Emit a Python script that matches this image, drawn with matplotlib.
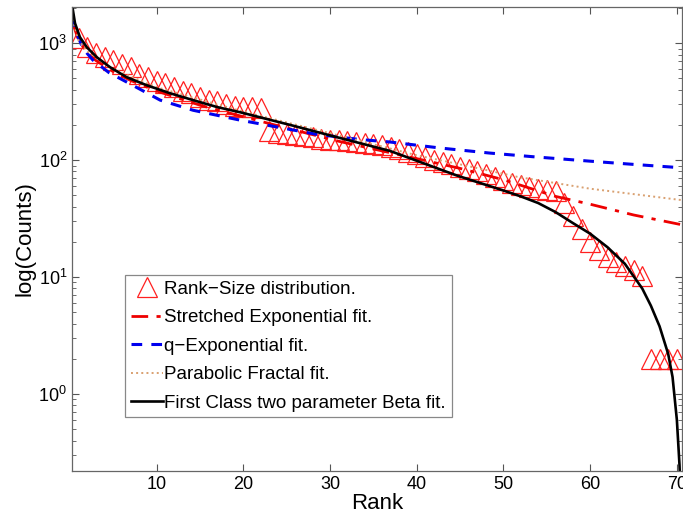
import numpy as np
import matplotlib
matplotlib.use("Agg")
import matplotlib.pyplot as plt

plt.rcParams['font.family'] = ['Liberation Sans', 'DejaVu Sans']
plt.rcParams['mathtext.fontset'] = 'custom'
plt.rcParams['mathtext.rm'] = 'Liberation Sans'
plt.rcParams['mathtext.it'] = 'Liberation Sans:italic'

# Rank-size data
rank = np.arange(1, 71)
counts = [1100, 930, 820, 760, 720, 660, 620, 550, 510, 475,
          460, 420, 390, 375, 350, 330, 318, 300, 290, 285,
          282, 278, 178, 172, 168, 164, 160, 157, 153, 150,
          148, 145, 142, 140, 137, 134, 130, 124, 118, 112,
          106, 101, 97, 92, 88, 84, 80, 76, 72, 68,
          64, 61, 59, 57, 56, 55, 43, 33, 26, 20,
          17, 15, 13.5, 12.5, 11.5, 10.2, 2, 2, 2, 2]

# fitted curves
stretched_r = [0.3, 1, 2, 3, 5, 7, 10, 15, 20, 25, 31, 36, 40, 45, 50, 56, 60, 65, 70.6]
stretched_v = [1500, 1050, 830, 710, 570, 480, 390, 295, 235, 188, 145, 120, 103, 85, 68, 49, 42, 34, 28]

qexp_r = [0.3, 0.6, 1.5, 2.65, 4.5, 6.57, 10.4, 14.2, 19.6, 24.2, 28.5, 33.5, 36.9, 42.7, 48.4, 53.4, 60, 65, 70.6]
qexp_v = [1700, 1300, 900, 716, 560, 464, 326, 267, 220, 190, 166, 150, 143, 127, 115, 107, 98, 92, 86]

parab_r = [0.3, 1, 2, 5, 10, 20, 30, 40, 45, 51.6, 60, 70.6]
parab_v = [1600, 1050, 850, 600, 420, 260, 170, 110, 92, 72, 57, 45.5]

beta_r = [0.25, 0.58, 1.15, 1.93, 3.08, 4.61, 6.54, 8.85, 11.5, 14.2, 17.0, 19.6, 25.4, 31.1,
          36.9, 44.6, 50, 52, 54, 56, 58, 60, 62, 64, 66, 67, 68, 69, 69.5, 70, 70.3, 70.5]
beta_v = [2100, 1480, 1125, 925, 760, 624, 512, 437, 374, 326, 284, 257, 200, 155,
          120, 74, 55, 49, 43, 36, 29, 23.5, 18, 13, 8, 5.7, 3.8, 2.2, 1.4, 0.6, 0.25, 0.1]

fig = plt.figure(figsize=(6.83, 5.17), dpi=100)
ax = fig.add_axes([0.1054, 0.089, 0.893, 0.8975])

ax.semilogy(rank, counts, '^', color='#ff2020', mfc='none', ms=14, mew=0.9,
            label='Rank\u2212Size distribution.')
ax.semilogy(stretched_r, stretched_v, '-.', color='#ee0000', lw=2,
            dashes=(6, 3, 1.5, 3), label='Stretched Exponential fit.')
ax.semilogy(qexp_r, qexp_v, '--', color='#0000ee', lw=2.2,
            dashes=(3.5, 3), label='q\u2212Exponential fit.')
ax.semilogy(parab_r, parab_v, ':', color='#d9a070', lw=1.4,
            label='Parabolic Fractal fit.')
ax.semilogy(beta_r, beta_v, '-', color='black', lw=1.9,
            label='First Class two parameter Beta fit.')

ax.set_xlim(0.23, 70.58)
ax.set_ylim(0.22, 2040)
ax.set_xticks([10, 20, 30, 40, 50, 60, 70])
ax.tick_params(which='both', direction='in', top=True, right=True,
               labelsize=13, color='#555555')
ax.tick_params(which='major', length=5)
ax.tick_params(which='minor', length=3)
for s in ax.spines.values():
    s.set_color('#666666')
    s.set_linewidth(0.9)

ax.set_xlabel('Rank', fontsize=16, labelpad=0)
ax.set_ylabel('log(Counts)', fontsize=16, labelpad=2)

leg = ax.legend(loc='lower left', bbox_to_anchor=(0.087, 0.116), fontsize=13.5,
                fancybox=False, framealpha=1, edgecolor='#888888',
                handlelength=1.7, handletextpad=0.1, borderpad=0.3,
                labelspacing=0.6, borderaxespad=0)
leg.get_frame().set_linewidth(0.9)

fig.savefig('out.png', dpi=100)
